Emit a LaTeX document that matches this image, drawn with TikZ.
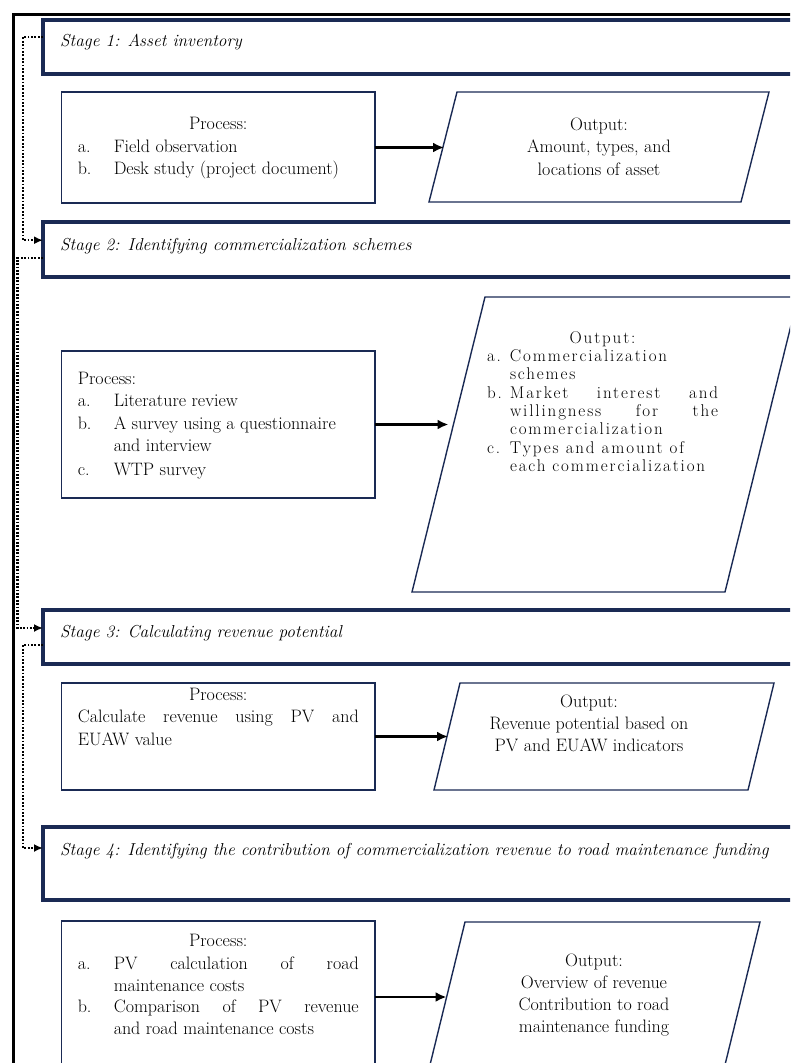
\documentclass[tikz,border=0pt]{standalone}
\usepackage{fontspec}
\usetikzlibrary{positioning,arrows.meta}
\definecolor{StageNavy}{RGB}{26,42,84}
\newfontfamily\widefont{lmroman17-regular.otf}[LetterSpace=11]
\newcommand{\pitem}[2]{\makebox[36pt][l]{#1}\parbox[t]{245pt}{\fontsize{18}{22.5}\selectfont#2\strut}}
\newcommand{\oitem}[2]{\makebox[23pt][l]{#1}\parbox[t]{208pt}{\fontsize{17}{18.2}\selectfont#2\strut}}
\newcommand{\slantbox}[2]{\draw[paraline] ([xshift=#2]#1.north west) -- (#1.north east) -- ([xshift=-#2]#1.south east) -- (#1.south west) -- cycle;}

\begin{document}
\begin{tikzpicture}[
    x=1pt, y=-1pt,
    font=\fontsize{18}{22.5}\selectfont,
    outerframe/.style={
        draw=black,
        line width=3.5pt
    },
    stagebox/.style={
        draw=StageNavy,
        line width=4pt,
        anchor=north west,
        minimum width=790pt,
        inner sep=0pt,
        outer sep=0pt
    },
    stagetxt/.style={
        font=\fontsize{17.3}{22}\selectfont\itshape,
        inner sep=0pt
    },
    procbox/.style={
        draw=StageNavy,
        line width=1.4pt,
        anchor=north west,
        minimum width=313.5pt,
        inner sep=0pt,
        outer sep=0pt
    },
    proctxt/.style={
        inner sep=0pt,
        text width=281pt,
        align=justify
    },
    outbox/.style={
        inner sep=0pt,
        outer sep=0pt
    },
    paraline/.style={
        draw=StageNavy,
        line width=1.4pt
    },
    outtxt/.style={
        inner sep=0pt,
        align=center
    },
    flow/.style={
        line width=2.2pt,
        dash pattern=on 1.8pt off 1.6pt,
        -{Latex[length=9pt,width=8pt]}
    },
    feed/.style={
        line width=2.8pt,
        -{Latex[length=11pt,width=10pt]}
    }
]
\useasboundingbox (0,0) rectangle (790,1063);
\clip (0,0) rectangle (790,1063);

\draw[outerframe] (13.5,14.5) rectangle (830,1100);

% stage 1
\node[stagebox, minimum height=54pt] (s1) at (43,19.5) {};
\node[stagetxt, below right=27pt and 17pt of s1.north west, anchor=base west] (s1t) {Stage 1: Asset inventory};

\node[procbox, minimum height=111pt] (p1) at (61.5,92) {};
\node[proctxt, below=25.5pt of p1.north] (p1t) {\makebox[\hsize]{Process:}\\
    \pitem{a.}{Field observation}\\
    \pitem{b.}{Desk study (project document)}};

\node[outbox, minimum width=340pt, minimum height=110pt] (o1) at (599,147) {};
\slantbox{o1}{28pt}
\coordinate (o1in) at ([xshift=15pt]o1.west);
\node[outtxt, below=25.5pt of o1.north] (o1t) {Output:\\Amount, types, and\\locations of asset};

\draw[feed] (p1.east) -- (p1.east -| o1in);

% stage 2
\node[stagebox, minimum height=55pt] (s2) at (43,221.7) {};
\node[stagetxt, below right=28.3pt and 17pt of s2.north west, anchor=base west] (s2t) {Stage 2: Identifying commercialization schemes};

\node[procbox, minimum height=147pt] (p2) at (61.5,351) {};
\node[proctxt, below=20.7pt of p2.north] (p2t) {Process:\\
    \pitem{a.}{Literature review}\\
    \pitem{b.}{A survey using a questionnaire\newline and interview}\\
    \pitem{c.}{WTP survey}};

\node[outbox, minimum width=386pt, minimum height=295pt] (o2) at (605,444.5) {};
\slantbox{o2}{73pt}
\coordinate (o2in) at ([xshift=36.5pt]o2.west);
\node[proctxt, text width=231pt, font=\widefont\fontsize{17}{18.2}\selectfont,
      below=34.5pt of o2.north, xshift=-2.5pt] (o2t) {\makebox[\hsize]{Output:}\\
    \oitem{a.}{Commercialization\linebreak schemes}\\
    \oitem{b.}{Market interest and\linebreak willingness for the\linebreak commercialization}\\
    \oitem{c.}{Types and amount of\newline each commercialization}};

\draw[feed] (p2.east) -- (p2.east -| o2in);

% stage 3
\node[stagebox, minimum height=54pt] (s3) at (43,609.5) {};
\node[stagetxt, below right=27.5pt and 17pt of s3.north west, anchor=base west] (s3t) {Stage 3: Calculating revenue potential};

\node[procbox, minimum height=107pt] (p3) at (61.5,683) {};
\node[proctxt, below=4.7pt of p3.north] (p3t) {\makebox[\hsize]{Process:}\\
    Calculate revenue using PV and\linebreak EUAW value};

\node[outbox, minimum width=340pt, minimum height=107pt] (o3) at (604,736.5) {};
\slantbox{o3}{26pt}
\coordinate (o3in) at ([xshift=14pt]o3.west);
\node[outtxt, font=\fontsize{18}{22}\selectfont, below=11.5pt of o3.north, xshift=-15pt] (o3t) {Output:\\Revenue potential based on\\PV and EUAW indicators};

\draw[feed] (p3.east) -- (p3.east -| o3in);

% stage 4
\node[stagebox, minimum height=73.3pt] (s4) at (43,826.7) {};
\node[stagetxt, below right=28.3pt and 17pt of s4.north west, anchor=base west] (s4t) {Stage 4: Identifying the contribution of commercialization revenue to road maintenance funding};

\node[procbox, minimum height=152pt] (p4) at (61.5,921) {};
\node[proctxt, below=13.4pt of p4.north] (p4t) {\makebox[\hsize]{Process:}\\
    \pitem{a.}{PV calculation of road\linebreak maintenance costs}\\
    \pitem{b.}{Comparison of PV revenue\linebreak and road maintenance costs}};

\node[outbox, minimum width=332pt, minimum height=151pt] (o4) at (594,997.5) {};
\slantbox{o4}{37pt}
\coordinate (o4in) at ([xshift=18.5pt]o4.west);
\node[outtxt, font=\fontsize{18}{22}\selectfont, below=31.5pt of o4.north] (o4t) {Output:\\Overview of revenue\\Contribution to road\\maintenance funding};

\draw[feed] (p4.east) -- (p4.east -| o4in);

% stage links
\draw[flow] ([yshift=-17.5pt]s1.north west) -- ++(-20pt,0) |- ([yshift=-18.5pt]s2.north west);
\draw[flow] ([yshift=-36.3pt]s2.north west) -- ++(-25.5pt,0) |- ([yshift=-18.5pt]s3.north west);
\draw[flow] ([yshift=-35.5pt]s3.north west) -- ++(-20pt,0) |- ([yshift=-21.3pt]s4.north west);

\end{tikzpicture}
\end{document}
